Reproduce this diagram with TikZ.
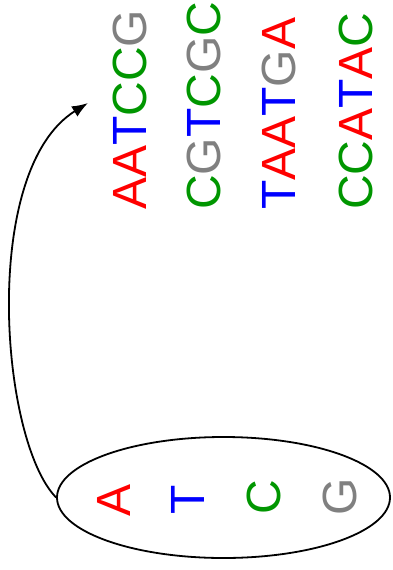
\documentclass[tikz,border=0pt]{standalone}
\usepackage{fontspec}
\setmainfont{Liberation Sans}
\usetikzlibrary{shapes.geometric,arrows.meta}
\definecolor{nucred}{RGB}{255,0,0}
\definecolor{nucblue}{RGB}{0,0,255}
\definecolor{nucgreen}{RGB}{0,150,0}
\definecolor{nucgray}{RGB}{128,128,128}
\newcommand{\nucA}{{\color{nucred}A}}
\newcommand{\nucT}{{\color{nucblue}T}}
\newcommand{\nucC}{{\color{nucgreen}C}}
\newcommand{\nucG}{{\color{nucgray}G}}
\begin{document}
\begin{tikzpicture}[x=1pt,y=-1pt,
  seq/.style={rotate=90,anchor=base west,inner sep=0pt,font=\fontsize{48}{58}\selectfont},
  nuc/.style={rotate=90,anchor=base,inner sep=0pt,font=\fontsize{48}{58}\selectfont},
  pool/.style={draw,ellipse,line width=1.8pt,inner sep=0pt,minimum width=333pt,minimum height=121pt},
  link/.style={line width=1.8pt,-{Latex[length=16pt,width=12pt]}}]
\useasboundingbox (0,0) rectangle (392,570);
\node[seq] (s1) at (146,210) {\nucA\nucA\nucT\nucC\nucC\nucG};
\node[seq] (s2) at (220,210) {\nucC\nucG\nucT\nucC\nucG\nucC};
\node[seq] (s3) at (295,210) {\nucT\nucA\nucA\nucT\nucG\nucA};
\node[seq] (s4) at (372,210) {\nucC\nucC\nucA\nucT\nucA\nucC};
\node[pool] (e) at (223.5,497.5) {};
\node[nuc] (nA) at (130,500) {\nucA};
\node[nuc] (nT) at (204,500) {\nucT};
\node[nuc] (nC) at (280,497) {\nucC};
\node[nuc] (nG) at (356,497) {\nucG};
\coordinate (tip) at (88,103);
\draw[link] (e.west) .. controls (0,440) and (-20,170) .. (tip);
\end{tikzpicture}
\end{document}
